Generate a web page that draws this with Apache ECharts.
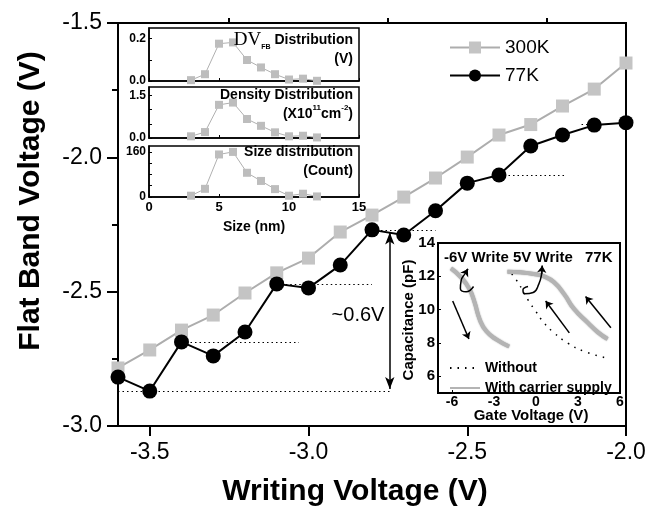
<!DOCTYPE html>
<html>
<head>
<meta charset="utf-8">
<script src="https://cdn.jsdelivr.net/npm/echarts@6/dist/echarts.min.js"></script>
<style>
  html, body { margin: 0; padding: 0; background: #fff; }
  #chart { width: 659px; height: 506px; }
</style>
</head>
<body>
<div id="chart"></div>
<script>
const FONT = "Arial, 'Liberation Sans', sans-serif"

// main plot: writing voltage vs flat band voltage
const writeV = [-3.6, -3.5, -3.4, -3.3, -3.2, -3.1, -3.0, -2.9, -2.8, -2.7, -2.6, -2.5, -2.4, -2.3, -2.2, -2.1, -2.0]
const fb300K = [-2.784, -2.717, -2.643, -2.587, -2.505, -2.430, -2.375, -2.278, -2.215, -2.148, -2.077, -1.999, -1.917, -1.878, -1.809, -1.746, -1.649]
const fb77K = [-2.818, -2.870, -2.687, -2.739, -2.650, -2.471, -2.486, -2.401, -2.270, -2.289, -2.199, -2.096, -2.066, -1.958, -1.917, -1.880, -1.871]

// dotted guide levels: [from x, to x, level]
const guideLevels = [[-3.6, -2.74, -2.870], [-3.4, -3.03, -2.687], [-3.1, -2.8, -2.471], [-2.8, -2.6, -2.270], [-2.37, -2.19, -2.066], [-2.14, -2.1, -1.876]]
// ~0.6V double arrow: [x, top, bottom]
const shiftArrow = [-2.744, -2.28, -2.862]

// inset: dot size distributions
const dotSize = [3, 4, 5, 6, 7, 8, 9, 10, 11, 12]
const dvfbDist = [0.004, 0.032, 0.176, 0.182, 0.099, 0.064, 0.032, 0.007, 0.011, 0.001]
const densityDist = [0.06, 0.21, 1.17, 1.25, 0.67, 0.43, 0.20, 0.06, 0.08, 0.02]
const sizeCount = [4.6, 29, 151, 160, 86, 57, 28, 4.6, 11.6, 2]

// inset: C-V curves at 77K
const cvNeg6Write = [[-6.07, 12.48], [-5.35, 11.94], [-4.75, 11.23], [-4.38, 10.42], [-4.02, 9.41], [-3.54, 8.70], [-2.81, 8.20], [-1.92, 7.79]]
const cvPos5Write = [[-2.04, 12.28], [-1.12, 12.24], [-0.16, 12.14], [0.57, 12.0], [1.29, 11.64], [2.01, 10.93], [2.74, 10.02], [3.71, 9.21], [4.43, 8.64], [5.11, 8.24]]
const cvWithout = [[-1.73, 12.14], [-1.36, 11.73], [-1.0, 11.23], [-0.52, 10.52], [-0.03, 9.92], [0.57, 9.21], [1.29, 8.61], [2.26, 8.0], [3.46, 7.49], [5.11, 7.09]]
const cvArrows = [
  [[-5.95, 10.52], [-4.79, 8.24]],
  [[2.38, 8.61], [0.69, 10.52]],
  [[5.35, 8.91], [3.54, 10.79]]
]
const curlNeg6 = [[-4.46, 11.39], [-4.99, 11.07], [-5.40, 11.27], [-5.35, 11.73], [-5.04, 12.2], [-4.87, 12.44]]
const curlPos5 = [[-0.57, 11.39], [-0.93, 11.19], [-0.83, 10.95], [-0.20, 11.03], [0.20, 11.53], [0.40, 12.14], [0.45, 12.64]]

const pair = (xs, ys) => xs.map((x, i) => [x, ys[i]])

let myChart = echarts.init(document.getElementById('chart'), null, { renderer: 'canvas' })

// small inset axes helpers
function insetX(gi, showLabel) {
  return {
    type: 'value', gridIndex: gi, min: 0, max: 15, interval: 5, z: 6,
    axisLine: { onZero: false, lineStyle: { color: '#000', width: 1.5 } },
    axisTick: { inside: true, length: 3, lineStyle: { color: '#000' } },
    axisLabel: { show: showLabel, color: '#000', fontWeight: 'bold', fontSize: 13, margin: 4, fontFamily: FONT },
    splitLine: { show: false }
  }
}
function insetY(gi, max, labels, ticks, digits) {
  return {
    type: 'value', gridIndex: gi, min: 0, max: max, z: 6,
    axisLine: { onZero: false, lineStyle: { color: '#000', width: 1.5 } },
    axisTick: { inside: true, length: 3, customValues: ticks, lineStyle: { color: '#000' } },
    axisLabel: { customValues: labels, color: '#000', fontWeight: 'bold', fontSize: 12, margin: 3, fontFamily: FONT,
      formatter: v => v.toFixed(digits) },
    splitLine: { show: false }
  }
}
// panel k (1..3): x axis k+1, y axis k
function insetSeries(name, k, vals) {
  return {
    name: name, type: 'line', xAxisIndex: k + 1, yAxisIndex: k, z: 7,
    data: pair(dotSize, vals),
    symbol: 'rect', symbolSize: 8,
    itemStyle: { color: '#bdbdbd' },
    lineStyle: { color: '#b0b0b0', width: 1 }
  }
}

const grayCurve = { color: '#b4b4b4', width: 4, shadowColor: 'rgba(0,0,0,0.45)', shadowBlur: 1.5 }

myChart.setOption({
  animation: false,
  textStyle: { fontFamily: FONT },
  grid: [
    { left: 118, top: 23, width: 508, height: 403, show: true, borderColor: '#000', borderWidth: 2 },
    { left: 149, top: 28, width: 210, height: 53, show: true, borderColor: '#000', borderWidth: 1.5, backgroundColor: '#fff', z: 5 },
    { left: 149, top: 87, width: 210, height: 51, show: true, borderColor: '#000', borderWidth: 1.5, backgroundColor: '#fff', z: 5 },
    { left: 149, top: 146, width: 210, height: 51, show: true, borderColor: '#000', borderWidth: 1.5, backgroundColor: '#fff', z: 5 },
    { left: 438, top: 243, width: 182, height: 150, show: true, borderColor: '#000', borderWidth: 2, backgroundColor: '#fff', z: 5 }
  ],
  legend: [
    {
      data: ['300K', '77K'], orient: 'vertical', left: 444, top: 33,
      itemWidth: 50, itemHeight: 15, itemGap: 9,
      textStyle: { fontSize: 19, color: '#000', fontFamily: FONT }
    },
    {
      data: ['Without', 'With carrier supply'], orient: 'vertical', left: 444, top: 356, z: 8,
      itemWidth: 30, itemHeight: 10, itemGap: 6,
      itemStyle: { opacity: 0 },
      textStyle: { fontSize: 14, fontWeight: 'bold', color: '#000', fontFamily: FONT }
    }
  ],
  xAxis: [
    {
      type: 'value', gridIndex: 0, min: -3.6, max: -2.0,
      axisLine: { onZero: false, lineStyle: { color: '#000', width: 2 } },
      axisTick: { customValues: [-3.5, -3.0, -2.5, -2.0], length: 10, lineStyle: { color: '#000', width: 2 } },
      axisLabel: { customValues: [-3.5, -3.0, -2.5, -2.0], color: '#000', fontSize: 23, margin: 15, fontFamily: FONT,
        formatter: v => v.toFixed(1) },
      splitLine: { show: false }
    },
    {
      type: 'value', gridIndex: 0, min: -3.6, max: -2.0,
      axisLine: { show: false, onZero: false },
      axisTick: { customValues: [-3.25, -2.75, -2.25], length: 5, lineStyle: { color: '#000', width: 2 } },
      axisLabel: { show: false },
      splitLine: { show: false }
    },
    insetX(1, false),
    insetX(2, false),
    insetX(3, true),
    {
      type: 'value', gridIndex: 4, min: -7, max: 6, z: 6,
      axisLine: { onZero: false, lineStyle: { color: '#000', width: 2 } },
      axisTick: { inside: true, length: 3, customValues: [-6, -3, 0, 3, 6], lineStyle: { color: '#000' } },
      axisLabel: { customValues: [-6, -3, 0, 3, 6], color: '#000', fontWeight: 'bold', fontSize: 14, margin: 2, fontFamily: FONT },
      splitLine: { show: false }
    }
  ],
  yAxis: [
    {
      type: 'value', gridIndex: 0, min: -3.0, max: -1.5, interval: 0.5,
      axisLine: { onZero: false, lineStyle: { color: '#000', width: 2 } },
      axisTick: { length: 11, lineStyle: { color: '#000', width: 2 } },
      minorTick: { show: true, splitNumber: 2, length: 6, lineStyle: { color: '#000', width: 2 } },
      axisLabel: { color: '#000', fontSize: 23, margin: 16, fontFamily: FONT, formatter: v => v.toFixed(1) },
      splitLine: { show: false }, minorSplitLine: { show: false }
    },
    insetY(1, 0.25, [0, 0.2], [0, 0.1, 0.2], 1),
    insetY(2, 1.8, [0, 1.5], [0, 0.5, 1.0, 1.5], 1),
    insetY(3, 181, [0, 160], [0, 40, 80, 120, 160], 0),
    {
      type: 'value', gridIndex: 4, min: 5, max: 14, z: 6,
      axisLine: { onZero: false, lineStyle: { color: '#000', width: 2 } },
      axisTick: { inside: true, length: 3, customValues: [6, 8, 10, 12, 14], lineStyle: { color: '#000' } },
      axisLabel: { customValues: [6, 8, 10, 12, 14], color: '#000', fontWeight: 'bold', fontSize: 15, margin: 3, fontFamily: FONT },
      splitLine: { show: false }
    }
  ],
  series: [
    {
      name: '300K', type: 'line', xAxisIndex: 0, yAxisIndex: 0,
      data: pair(writeV, fb300K),
      symbol: 'rect', symbolSize: 13,
      itemStyle: { color: '#c4c4c4' },
      lineStyle: { color: '#adadad', width: 2 }
    },
    {
      name: '77K', type: 'line', xAxisIndex: 0, yAxisIndex: 0,
      data: pair(writeV, fb77K),
      symbol: 'circle', symbolSize: 15,
      itemStyle: { color: '#000' },
      lineStyle: { color: '#000', width: 2 },
      markLine: {
        silent: true, symbol: 'none', animation: false,
        label: { show: false },
        lineStyle: { color: '#000', type: [1.5, 3], width: 1 },
        data: guideLevels.map(g => [{ coord: [g[0], g[2]] }, { coord: [g[1], g[2]] }])
      }
    },
    {
      type: 'line', xAxisIndex: 0, yAxisIndex: 0, data: [], symbol: 'none',
      markLine: {
        silent: true, symbol: ['arrow', 'arrow'], symbolSize: [7, 12], animation: false,
        label: { show: false },
        lineStyle: { color: '#000', type: 'solid', width: 1.5 },
        data: [[{ coord: [shiftArrow[0], shiftArrow[1]] }, { coord: [shiftArrow[0], shiftArrow[2]] }]]
      }
    },
    insetSeries('dvfb', 1, dvfbDist),
    insetSeries('density', 2, densityDist),
    insetSeries('size', 3, sizeCount),
    {
      name: 'Without', type: 'line', xAxisIndex: 5, yAxisIndex: 4, z: 7,
      data: cvWithout, smooth: true, symbol: 'none',
      itemStyle: { color: '#000' },
      lineStyle: { color: '#000', width: 1.5, type: [1.5, 6] }
    },
    {
      name: 'With carrier supply', type: 'line', xAxisIndex: 5, yAxisIndex: 4, z: 7,
      data: cvNeg6Write, smooth: true, symbol: 'none',
      itemStyle: { color: '#b4b4b4' },
      lineStyle: grayCurve
    },
    {
      name: 'With carrier supply', type: 'line', xAxisIndex: 5, yAxisIndex: 4, z: 7,
      data: cvPos5Write, smooth: true, symbol: 'none',
      itemStyle: { color: '#b4b4b4' },
      lineStyle: grayCurve
    },
    {
      type: 'line', xAxisIndex: 5, yAxisIndex: 4, z: 8,
      data: curlNeg6, smooth: true, symbol: 'none',
      lineStyle: { color: '#000', width: 1.5 }
    },
    {
      type: 'line', xAxisIndex: 5, yAxisIndex: 4, z: 8,
      data: curlPos5, smooth: true, symbol: 'none',
      lineStyle: { color: '#000', width: 1.5 }
    },
    {
      type: 'lines', coordinateSystem: 'cartesian2d', xAxisIndex: 5, yAxisIndex: 4, z: 8,
      symbol: ['none', 'arrow'], symbolSize: 7,
      lineStyle: { color: '#000', width: 1.5, opacity: 1 },
      data: cvArrows.concat([curlNeg6.slice(-2), curlPos5.slice(-2)]).map(c => ({ coords: c }))
    }
  ],
  graphic: [
    { type: 'text', x: 31, y: 201, rotation: Math.PI / 2, z: 10,
      style: { text: 'Flat Band Voltage (V)', font: 'bold 30px ' + FONT, fill: '#000', textAlign: 'center', textVerticalAlign: 'middle' } },
    { type: 'text', x: 355, y: 492, z: 10,
      style: { text: 'Writing Voltage (V)', font: 'bold 30px ' + FONT, fill: '#000', textAlign: 'center', textVerticalAlign: 'middle' } },
    { type: 'text', x: 358, y: 315, z: 10,
      style: { text: '~0.6V', font: '20px ' + FONT, fill: '#000', textAlign: 'center', textVerticalAlign: 'middle' } },
    // inset 1 labels
    { type: 'text', x: 353, y: 40, z: 10,
      style: { text: '{dv|DV}{sub|FB}{b| Distribution}', textAlign: 'right', textVerticalAlign: 'middle',
        rich: {
          dv: { font: '19px "Liberation Serif", "Times New Roman", serif', fill: '#000', lineHeight: 22 },
          sub: { font: 'bold 7px ' + FONT, fill: '#000', verticalAlign: 'bottom' },
          b: { font: 'bold 14px ' + FONT, fill: '#000' }
        } } },
    { type: 'text', x: 353, y: 59, z: 10,
      style: { text: '(V)', font: 'bold 14px ' + FONT, fill: '#000', textAlign: 'right', textVerticalAlign: 'middle' } },
    { type: 'text', x: 353, y: 95, z: 10,
      style: { text: 'Density Distribution', font: 'bold 14px ' + FONT, fill: '#000', textAlign: 'right', textVerticalAlign: 'middle' } },
    { type: 'text', x: 353, y: 114, z: 10,
      style: { text: '{b|(X10}{sup|11}{b|cm}{sup|-2}{b|)}', textAlign: 'right', textVerticalAlign: 'middle',
        rich: {
          b: { font: 'bold 14px ' + FONT, fill: '#000', lineHeight: 20 },
          sup: { font: 'bold 8px ' + FONT, fill: '#000', verticalAlign: 'top' }
        } } },
    { type: 'text', x: 353, y: 152, z: 10,
      style: { text: 'Size distribution', font: 'bold 14px ' + FONT, fill: '#000', textAlign: 'right', textVerticalAlign: 'middle' } },
    { type: 'text', x: 353, y: 171, z: 10,
      style: { text: '(Count)', font: 'bold 14px ' + FONT, fill: '#000', textAlign: 'right', textVerticalAlign: 'middle' } },
    { type: 'text', x: 254, y: 227, z: 10,
      style: { text: 'Size (nm)', font: 'bold 14px ' + FONT, fill: '#000', textAlign: 'center', textVerticalAlign: 'middle' } },
    // C-V inset labels
    { type: 'text', x: 444, y: 258, z: 10,
      style: { text: '-6V Write', font: 'bold 15px ' + FONT, fill: '#000', textAlign: 'left', textVerticalAlign: 'middle' } },
    { type: 'text', x: 513, y: 258, z: 10,
      style: { text: '5V Write', font: 'bold 15px ' + FONT, fill: '#000', textAlign: 'left', textVerticalAlign: 'middle' } },
    { type: 'text', x: 585, y: 258, z: 10,
      style: { text: '77K', font: 'bold 15px ' + FONT, fill: '#000', textAlign: 'left', textVerticalAlign: 'middle' } },
    { type: 'text', x: 531, y: 416, z: 10,
      style: { text: 'Gate Voltage (V)', font: 'bold 15px ' + FONT, fill: '#000', textAlign: 'center', textVerticalAlign: 'middle' } },
    { type: 'text', x: 409, y: 320, rotation: Math.PI / 2, z: 10,
      style: { text: 'Capacitance (pF)', font: 'bold 15px ' + FONT, fill: '#000', textAlign: 'center', textVerticalAlign: 'middle' } }
  ]
})
</script>
</body>
</html>
